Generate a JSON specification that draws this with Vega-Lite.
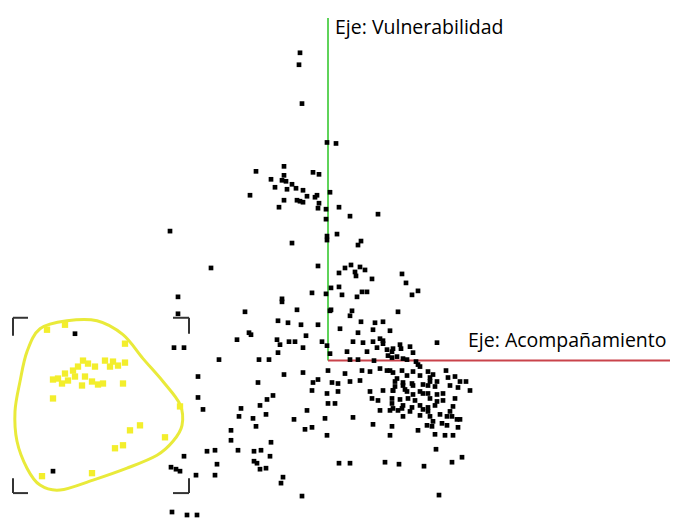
{
  "$schema": "https://vega.github.io/schema/vega-lite/v6.json",
  "width": 675,
  "height": 518,
  "padding": 0,
  "autosize": {"type": "fit", "contains": "padding"},
  "background": "white",
  "config": {"view": {"stroke": null}},
  "datasets": {
    "pts": [
      {"x":300,"y":53},{"x":299,"y":65},{"x":302,"y":104},{"x":327,"y":143},{"x":336,"y":144},{"x":284,"y":167},{"x":256,"y":172},{"x":313,"y":173},{"x":319,"y":175},{"x":271,"y":180},{"x":284,"y":176},{"x":282,"y":181},{"x":286,"y":182},{"x":292,"y":185},{"x":296,"y":189},{"x":287,"y":190},{"x":275,"y":188},{"x":303,"y":191},{"x":250,"y":196},{"x":307,"y":197},{"x":317,"y":196},{"x":315,"y":198},{"x":330,"y":193},{"x":284,"y":201},{"x":297,"y":201},{"x":300,"y":202},{"x":303,"y":203},{"x":319,"y":204},{"x":279,"y":208},{"x":318,"y":209},{"x":326,"y":210},{"x":339,"y":208},{"x":326,"y":220},{"x":170,"y":232},{"x":327,"y":237},{"x":337,"y":235},{"x":327,"y":241},{"x":292,"y":244},{"x":211,"y":269},{"x":318,"y":267},{"x":339,"y":274},{"x":326,"y":295},{"x":331,"y":289},{"x":339,"y":288},{"x":312,"y":294},{"x":178,"y":298},{"x":282,"y":300},{"x":282,"y":303},{"x":245,"y":313},{"x":297,"y":311},{"x":331,"y":311},{"x":178,"y":315},{"x":278,"y":322},{"x":288,"y":324},{"x":301,"y":326},{"x":318,"y":326},
      {"x":378,"y":215},{"x":350,"y":217},{"x":361,"y":242},{"x":358,"y":246},{"x":345,"y":269},{"x":351,"y":266},{"x":355,"y":273},{"x":356,"y":277},{"x":360,"y":268},{"x":365,"y":271},{"x":372,"y":280},{"x":402,"y":275},{"x":406,"y":284},{"x":418,"y":292},{"x":412,"y":296},{"x":362,"y":293},{"x":367,"y":293},{"x":357,"y":298},{"x":342,"y":296},{"x":352,"y":312},{"x":350,"y":317},{"x":361,"y":323},{"x":375,"y":324},{"x":383,"y":323},{"x":398,"y":313},
      {"x":249,"y":334},{"x":251,"y":336},{"x":306,"y":337},{"x":237,"y":341},{"x":277,"y":341},{"x":280,"y":346},{"x":289,"y":343},{"x":295,"y":343},{"x":303,"y":349},{"x":174,"y":349},{"x":184,"y":349},{"x":219,"y":361},{"x":259,"y":361},{"x":269,"y":361},{"x":278,"y":354},{"x":284,"y":376},{"x":303,"y":374},{"x":198,"y":378},{"x":258,"y":384},{"x":313,"y":384},{"x":318,"y":381},{"x":198,"y":399},{"x":267,"y":401},{"x":273,"y":397},{"x":312,"y":392},{"x":203,"y":411},{"x":241,"y":410},{"x":260,"y":407},{"x":307,"y":412},{"x":239,"y":418},{"x":253,"y":420},{"x":266,"y":416},{"x":294,"y":421},{"x":256,"y":428},{"x":231,"y":432},{"x":305,"y":431},{"x":312,"y":429},{"x":231,"y":442},{"x":271,"y":444},{"x":207,"y":453},{"x":215,"y":452},{"x":238,"y":452},{"x":254,"y":453},{"x":261,"y":452},{"x":184,"y":458},{"x":270,"y":458},{"x":254,"y":463},{"x":257,"y":465},{"x":171,"y":469},{"x":176,"y":471},{"x":180,"y":473},{"x":217,"y":466},{"x":260,"y":471},{"x":266,"y":470},{"x":196,"y":477},{"x":215,"y":477},{"x":283,"y":479},{"x":281,"y":485},{"x":302,"y":498},{"x":172,"y":514},{"x":187,"y":517},{"x":197,"y":517},{"x":75,"y":335},{"x":53,"y":473},
      {"x":330,"y":312},{"x":358,"y":334},{"x":373,"y":331},{"x":390,"y":332},{"x":340,"y":330},{"x":322,"y":343},{"x":327,"y":347},{"x":353,"y":343},{"x":363,"y":344},{"x":373,"y":343},{"x":380,"y":340},{"x":383,"y":345},{"x":377,"y":349},{"x":387,"y":351},{"x":392,"y":353},{"x":367,"y":353},{"x":347,"y":353},{"x":330,"y":355},{"x":350,"y":361},{"x":358,"y":361},{"x":392,"y":359},{"x":374,"y":362},
      {"x":328,"y":372},{"x":345,"y":375},{"x":362,"y":372},{"x":370,"y":373},{"x":380,"y":370},{"x":390,"y":372},{"x":332,"y":384},{"x":338,"y":385},{"x":350,"y":383},{"x":360,"y":382},{"x":338,"y":393},{"x":327,"y":395},{"x":370,"y":393},{"x":383,"y":392},{"x":393,"y":392},{"x":328,"y":405},{"x":335,"y":405},{"x":372,"y":400},{"x":378,"y":402},{"x":392,"y":405},{"x":390,"y":412},{"x":380,"y":412},{"x":398,"y":412},{"x":325,"y":420},{"x":353,"y":419},{"x":373,"y":426},{"x":392,"y":428},{"x":327,"y":437},{"x":390,"y":437},{"x":339,"y":465},{"x":350,"y":465},
      {"x":401,"y":350},{"x":410,"y":348},{"x":437,"y":344},{"x":413,"y":354},{"x":403,"y":360},{"x":416,"y":363},{"x":420,"y":368},{"x":402,"y":372},{"x":413,"y":373},{"x":428,"y":373},{"x":446,"y":372},{"x":397,"y":380},{"x":407,"y":377},{"x":420,"y":377},{"x":430,"y":379},{"x":437,"y":383},{"x":448,"y":379},{"x":455,"y":378},{"x":466,"y":383},{"x":395,"y":388},{"x":403,"y":387},{"x":413,"y":387},{"x":423,"y":386},{"x":428,"y":387},{"x":435,"y":388},{"x":407,"y":393},{"x":420,"y":393},{"x":428,"y":395},{"x":443,"y":395},{"x":458,"y":389},{"x":470,"y":392},{"x":400,"y":401},{"x":408,"y":400},{"x":415,"y":402},{"x":423,"y":395},{"x":455,"y":400},{"x":437,"y":403},{"x":403,"y":407},{"x":412,"y":409},{"x":420,"y":407},{"x":428,"y":409},{"x":410,"y":413},{"x":428,"y":413},{"x":450,"y":413},{"x":440,"y":416},{"x":447,"y":418},{"x":457,"y":421},{"x":420,"y":417},{"x":433,"y":423},{"x":442,"y":425},{"x":427,"y":427},{"x":432,"y":428},{"x":458,"y":429},{"x":418,"y":432},{"x":435,"y":436},{"x":445,"y":437},{"x":453,"y":437},{"x":436,"y":451},{"x":385,"y":464},{"x":399,"y":466},{"x":424,"y":468},{"x":452,"y":464},{"x":462,"y":459},{"x":439,"y":497},
      {"x":383,"y":342},{"x":393,"y":350},{"x":400,"y":346},{"x":388,"y":357},{"x":397,"y":358},{"x":407,"y":361},{"x":418,"y":366},{"x":387,"y":372},{"x":393,"y":374},{"x":433,"y":376},{"x":460,"y":383},{"x":395,"y":383},{"x":403,"y":384},{"x":412,"y":385},{"x":430,"y":383},{"x":450,"y":387},{"x":393,"y":392},{"x":405,"y":391},{"x":413,"y":396},{"x":437,"y":396},{"x":392,"y":400},{"x":430,"y":400},{"x":443,"y":402},{"x":393,"y":410},{"x":402,"y":410},{"x":423,"y":411},{"x":435,"y":407},{"x":453,"y":408},{"x":403,"y":418},{"x":430,"y":418},{"x":452,"y":418},{"x":460,"y":421},{"x":447,"y":427}
    ],
    "yel": [
      {"x":47,"y":331},{"x":65,"y":326},{"x":125,"y":345},{"x":83,"y":362},{"x":78,"y":368},{"x":73,"y":372},{"x":65,"y":375},{"x":58,"y":380},{"x":53,"y":381},{"x":62,"y":385},{"x":68,"y":382},{"x":82,"y":387},{"x":92,"y":383},{"x":103,"y":385},{"x":105,"y":362},{"x":113,"y":363},{"x":118,"y":367},{"x":125,"y":364},{"x":123,"y":385},{"x":53,"y":400},{"x":180,"y":408},{"x":130,"y":432},{"x":140,"y":427},{"x":115,"y":450},{"x":123,"y":447},{"x":165,"y":439},{"x":42,"y":478},{"x":92,"y":475},
      {"x":88,"y":365},{"x":95,"y":368},{"x":75,"y":378},{"x":85,"y":378},{"x":110,"y":368},{"x":98,"y":386}
    ],
    "ell": [
      {"o":1,"x":40,"y":330},{"o":2,"x":67,"y":322},{"o":3,"x":97,"y":322},{"o":4,"x":123,"y":336},{"o":5,"x":143,"y":360},{"o":6,"x":163,"y":383},{"o":7,"x":180,"y":406},{"o":8,"x":182,"y":427},{"o":9,"x":173,"y":443},{"o":10,"x":157,"y":457},{"o":11,"x":127,"y":470},{"o":12,"x":93,"y":482},{"o":13,"x":60,"y":492},{"o":14,"x":40,"y":487},{"o":15,"x":27,"y":470},{"o":16,"x":17,"y":443},{"o":17,"x":15,"y":413},{"o":18,"x":20,"y":383},{"o":19,"x":27,"y":353}
    ],
    "br": [
      {"x":13,"y":319,"x2":28,"y2":319},{"x":13,"y":319,"x2":13,"y2":337},
      {"x":173,"y":319,"x2":189,"y2":319},{"x":189,"y":319,"x2":189,"y2":335},
      {"x":13,"y":480,"x2":13,"y2":495},{"x":13,"y":495,"x2":28,"y2":495},
      {"x":189,"y":480,"x2":189,"y2":495},{"x":173,"y":495,"x2":189,"y2":495}
    ],
    "axes": [
      {"name":"Vulnerabilidad","x":328,"y":18,"x2":328,"y2":362},
      {"name":"Acompañamiento","x":328,"y":362,"x2":670,"y2":362}
    ],
    "labels": [
      {"t":"Eje: Vulnerabilidad","x":335,"y":28},
      {"t":"Eje: Acompañamiento","x":468,"y":342}
    ]
  },
  "layer": [
    {
      "data": {"name": "ell"},
      "mark": {"type": "line", "interpolate": "cardinal-closed", "color": "#e9ea3a", "strokeWidth": 3},
      "encoding": {
        "x": {"field": "x", "type": "quantitative", "scale": {"domain": [0, 675], "nice": false, "zero": false}, "axis": null},
        "y": {"field": "y", "type": "quantitative", "scale": {"domain": [0, 518], "nice": false, "zero": false, "reverse": true}, "axis": null},
        "order": {"field": "o", "type": "quantitative"}
      }
    },
    {
      "data": {"name": "br"},
      "mark": {"type": "rule", "color": "#333333", "strokeWidth": 2},
      "encoding": {
        "x": {"field": "x", "type": "quantitative"},
        "y": {"field": "y", "type": "quantitative"},
        "x2": {"field": "x2"},
        "y2": {"field": "y2"}
      }
    },
    {
      "data": {"name": "axes"},
      "mark": {"type": "rule", "strokeWidth": 2},
      "encoding": {
        "x": {"field": "x", "type": "quantitative"},
        "y": {"field": "y", "type": "quantitative"},
        "x2": {"field": "x2"},
        "y2": {"field": "y2"},
        "color": {"field": "name", "type": "nominal", "scale": {"domain": ["Vulnerabilidad", "Acompañamiento"], "range": ["#5fd35a", "#c9434b"]}, "legend": null}
      }
    },
    {
      "data": {"name": "yel"},
      "mark": {"type": "point", "shape": "square", "filled": true, "size": 40, "color": "#f3ee2c", "opacity": 1},
      "encoding": {
        "x": {"field": "x", "type": "quantitative"},
        "y": {"field": "y", "type": "quantitative"}
      }
    },
    {
      "data": {"name": "pts"},
      "mark": {"type": "point", "shape": "square", "filled": true, "size": 22, "color": "#000000", "opacity": 1},
      "encoding": {
        "x": {"field": "x", "type": "quantitative"},
        "y": {"field": "y", "type": "quantitative"}
      }
    },
    {
      "data": {"name": "labels"},
      "mark": {"type": "text", "align": "left", "baseline": "middle", "font": "Open Sans", "fontSize": 19.5, "color": "#000000"},
      "encoding": {
        "x": {"field": "x", "type": "quantitative"},
        "y": {"field": "y", "type": "quantitative"},
        "text": {"field": "t"}
      }
    }
  ]
}
